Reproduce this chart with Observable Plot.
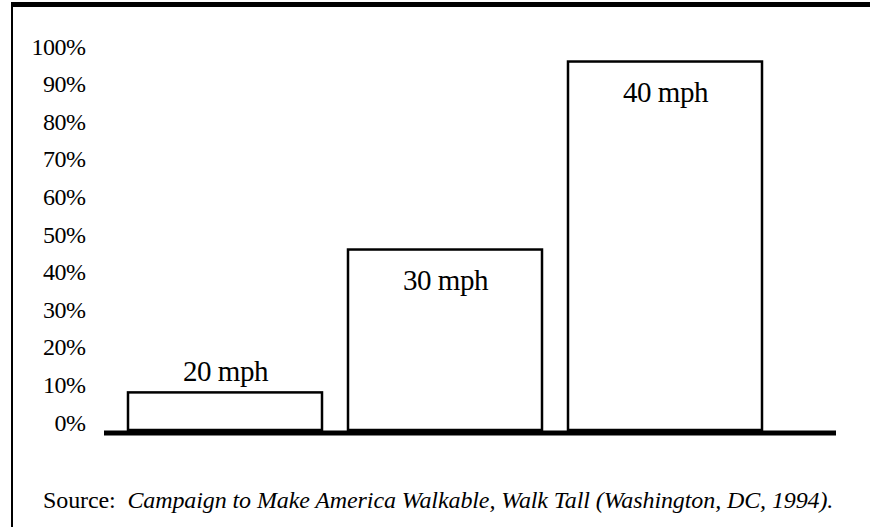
<!DOCTYPE html>
<html>
<head>
<meta charset="utf-8">
<script src="https://cdn.jsdelivr.net/npm/d3@7"></script>
<script src="https://cdn.jsdelivr.net/npm/@observablehq/plot@0.6"></script>
<style>
  html, body { margin: 0; padding: 0; background: white; overflow: hidden; }
  #frame {
    position: relative;
    margin-left: 11px;
    margin-top: 2px;
    border-top: 5px solid black;
    border-left: 2px solid black;
    width: 859px;
    height: 525px;
    box-sizing: border-box;
  }
  #frame svg text { letter-spacing: -0.5px; font-family: 'Liberation Serif', serif; }
  #caption, #caption span, #caption i {
    font-family: 'Liberation Serif', 'DejaVu Serif', serif;
  }
  #caption {
    position: absolute;
    left: 30px;
    top: 481px;
    font-size: 24px;
    line-height: 24px;
    letter-spacing: -0.1px;
    white-space: pre;
    color: black;
  }
</style>
</head>
<body>
<div id="frame"><div id="chart"></div><div id="caption"></div></div>
<script>
const categories = ["20 mph", "30 mph", "40 mph"];
const values = [10, 48, 98];
const yTicks = [0, 10, 20, 30, 40, 50, 60, 70, 80, 90, 100];
const sourceLabel = "Source:";
const sourceText = "Campaign to Make America Walkable, Walk Tall (Washington, DC, 1994).";

const data = categories.map((c, i) => ({category: c, value: values[i], i}));

const chart = Plot.plot({
  width: 857,
  height: 450,
  marginTop: 47,
  marginBottom: 27,
  marginLeft: 91,
  marginRight: 34,
  style: {fontFamily: "'Liberation Serif', serif", background: "white", color: "black"},
  x: {domain: categories, range: [115, 749], paddingInner: 0.12, paddingOuter: 0, axis: null},
  y: {domain: [0, 100]},
  marks: [
    Plot.barY(data, {x: "category", y: "value", fill: "white", stroke: "black", strokeWidth: 2.5}),
    Plot.ruleY([0], {stroke: "black", strokeWidth: 5, dy: 2.5}),
    Plot.axisY({ticks: yTicks, tickFormat: d => d + "%", tickSize: 0, tickPadding: 19, fontSize: 24, lineAnchor: "bottom", label: null}),
    Plot.text(data.filter(d => d.i === 0), {x: "category", y: "value", text: "category", fontSize: 29, lineAnchor: "bottom", dy: -12}),
    Plot.text(data.filter(d => d.i > 0), {x: "category", y: "value", text: "category", fontSize: 29, lineAnchor: "bottom", dy: 40})
  ]
});
document.getElementById("chart").appendChild(chart);

const cap = document.getElementById("caption");
const s1 = document.createElement("span");
s1.textContent = sourceLabel + "  ";
const s2 = document.createElement("i");
s2.textContent = sourceText;
cap.appendChild(s1);
cap.appendChild(s2);
</script>
</body>
</html>
